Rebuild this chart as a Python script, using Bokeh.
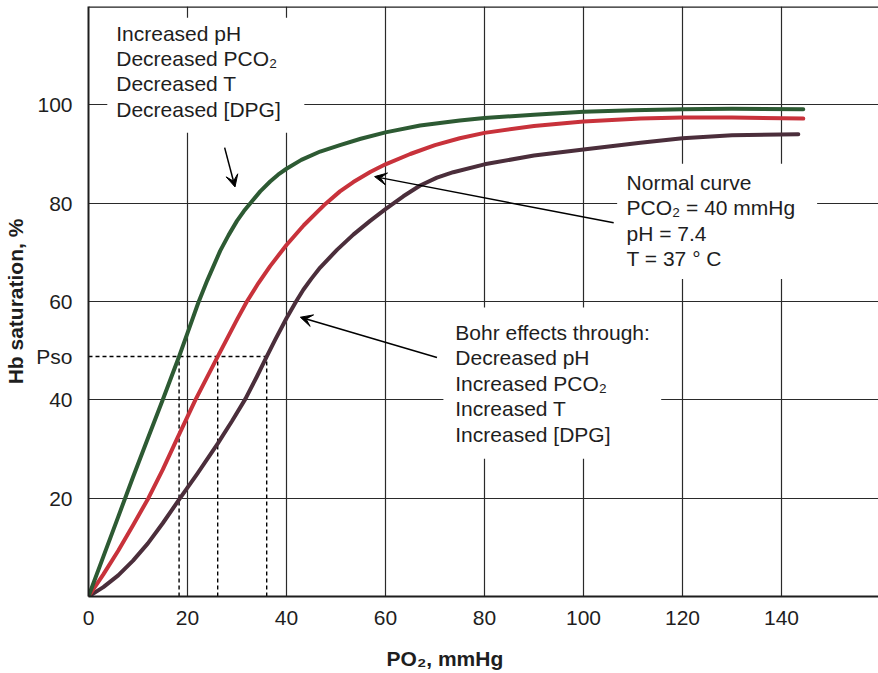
from bokeh.plotting import figure
from bokeh.models import Label, BoxAnnotation, Arrow, VeeHead, Span, FixedTicker, LinearAxis
from bokeh.embed import file_html
from bokeh.resources import INLINE

# ---- data ----
x_left = [0, 3, 6, 9, 12, 15, 18.3, 20.5, 22.2, 24, 26.6, 28.3, 30, 31.4, 32.7, 34.7, 36.7, 38.3,
          40, 43, 46.8, 50.8, 55, 60, 67, 75, 80, 90, 100, 110, 120, 130, 144.4]
y_left = [0, 8.1, 16.2, 24.3, 32.2, 40, 48.8, 55.0, 59.8, 64.3, 70.3, 73.5, 76.4, 78.4, 80, 82.4,
          84.4, 85.8, 87.0, 88.8, 90.5, 91.8, 93.1, 94.4, 95.8, 96.8, 97.3, 98.0, 98.6, 98.9,
          99.1, 99.2, 99.1]

x_normal = [0, 3, 6, 9, 12.1, 15, 18, 21.6, 26.1, 30, 32, 34.3, 36.7, 40, 43.5, 47.8, 50.8, 53.5,
            57, 60, 65, 70, 75, 80, 90, 100, 111.5, 120, 130, 144.4]
y_normal = [0, 4.5, 9.3, 14.5, 20, 25.8, 32.3, 40, 48.8, 56.3, 60, 63.7, 67.2, 71.5, 75.5, 79.8,
            82.4, 84.3, 86.4, 87.9, 90.0, 91.8, 93.2, 94.3, 95.7, 96.6, 97.2, 97.4, 97.4, 97.2]

x_right = [0, 3, 6, 9, 12, 15, 18.5, 22, 26.1, 29, 31.7, 34, 36, 37.7, 40, 42, 43.4, 45, 46.8,
           50.2, 53.5, 56.9, 60, 63.6, 67, 70.4, 73.7, 80, 90, 100, 111.5, 120, 130, 143.4]
y_right = [0, 1.9, 4.3, 7.3, 10.8, 14.9, 20, 25.0, 31.1, 35.7, 40.2, 44.7, 48.8, 52.2, 56.6, 60.1,
           62.4, 64.6, 66.9, 70.5, 73.6, 76.4, 78.8, 81.4, 83.6, 85.2, 86.3, 87.9, 89.7, 90.9,
           92.3, 93.2, 93.8, 94.0]

p50_sat = 48.8
p50_values = [18.3, 26.1, 36.0]

x_ticks = [0, 20, 40, 60, 80, 100, 120, 140]
y_ticks = [20, 40, 60, 80, 100]
x_title = "PO\u2082, mmHg"
y_title = "Hb saturation, %"
p50_label = "Pso"

text_left = ["Increased pH", "Decreased PCO\u2082", "Decreased T", "Decreased [DPG]"]
text_normal = ["Normal curve", "PCO\u2082 = 40 mmHg", "pH = 7.4", "T = 37 \u00b0 C"]
text_bohr = ["Bohr effects through:", "Decreased pH", "Increased PCO\u2082", "Increased T",
             "Increased [DPG]"]

# arrows: (x_start, y_start, x_end, y_end)
arrow_left = (27.5, 91.3, 29.6, 83.3)
arrow_normal = (106.1, 76.0, 57.8, 85.4)
arrow_bohr = (70.4, 48.6, 42.8, 56.8)

GREEN = "#2d5a33"
RED = "#c8323b"
PURPLE = "#4b2e3b"
INK = "#1e1e1e"
FONT = "Liberation Sans"
FS = "21px"

p = figure(width=878, height=673, x_range=(0, 159.6), y_range=(0, 120),
           output_backend="svg", toolbar_location=None,
           min_border_left=88, min_border_right=0, min_border_top=6, min_border_bottom=77)
p.background_fill_color = "white"
p.border_fill_color = "white"
p.outline_line_color = None

# axes
p.xaxis.ticker = FixedTicker(ticks=x_ticks)
p.yaxis.ticker = FixedTicker(ticks=sorted(y_ticks + [p50_sat]))
p.yaxis.major_label_overrides = {p50_sat: p50_label}
p.xgrid.ticker = FixedTicker(ticks=x_ticks)
p.ygrid.ticker = FixedTicker(ticks=y_ticks)
for ax in (p.xaxis, p.yaxis):
    ax.axis_line_color = INK
    ax.axis_line_width = 2
    ax.major_tick_line_color = None
    ax.minor_tick_line_color = None
    ax.major_tick_out = 0
    ax.major_tick_in = 0
    ax.major_label_text_font = FONT
    ax.major_label_text_font_size = FS
    ax.major_label_text_color = INK
p.xaxis.major_label_standoff = 14
p.yaxis.major_label_standoff = 16
p.yaxis.axis_label = y_title
p.yaxis.axis_label_text_font = FONT
p.yaxis.axis_label_text_font_size = FS
p.yaxis.axis_label_text_font_style = "bold"
p.yaxis.axis_label_text_color = INK
p.yaxis.axis_label_standoff = 6

# x title as a second, line-less axis below (placed off-centre as in the reference)
title_axis = LinearAxis(ticker=FixedTicker(ticks=[72]), major_label_overrides={72: x_title},
                        axis_line_color=None, major_tick_line_color=None,
                        minor_tick_line_color=None, major_tick_out=0, major_tick_in=0,
                        major_label_standoff=19, major_label_text_font=FONT,
                        major_label_text_font_size=FS, major_label_text_font_style="bold",
                        major_label_text_color=INK)
p.add_layout(title_axis, "below")

p.xgrid.grid_line_color = "#2a2a2a"
p.ygrid.grid_line_color = "#2a2a2a"
p.xgrid.grid_line_width = 1.2
p.ygrid.grid_line_width = 1.2

p.add_layout(Span(location=120, dimension="width", line_color=INK, line_width=2.5))

# white boxes behind the text blocks (interrupting the grid)
p.add_layout(BoxAnnotation(left=3.8, right=43.6, bottom=94.3, top=117.7,
                           fill_color="white", fill_alpha=1, line_color=None, level="underlay"))
p.add_layout(BoxAnnotation(left=106.8, right=147.2, bottom=64.6, top=88.0,
                           fill_color="white", fill_alpha=1, line_color=None, level="underlay"))
p.add_layout(BoxAnnotation(left=71.7, right=115.7, bottom=28.0, top=58.8,
                           fill_color="white", fill_alpha=1, line_color=None, level="underlay"))

# P50 dashed guides
p.line([0, max(p50_values)], [p50_sat, p50_sat], line_color="black", line_width=1.4,
       line_dash="4 3")
for xv in p50_values:
    p.line([xv, xv], [0, p50_sat], line_color="black", line_width=1.4, line_dash="4 3")

# curves
p.line(x_right, y_right, line_color=PURPLE, line_width=4, line_cap="round", line_join="round")
p.line(x_normal, y_normal, line_color=RED, line_width=4, line_cap="round", line_join="round")
p.line(x_left, y_left, line_color=GREEN, line_width=4, line_cap="round", line_join="round")

# arrows
for (xs, ys, xe, ye) in (arrow_left, arrow_normal, arrow_bohr):
    p.add_layout(Arrow(x_start=xs, y_start=ys, x_end=xe, y_end=ye, line_color="black",
                       line_width=1.5,
                       end=VeeHead(size=12, fill_color="black", line_color="black",
                                   line_width=1)))

def block(lines, x0, y0):
    for i, t in enumerate(lines):
        p.add_layout(Label(x=x0, y=y0, y_offset=-25.4 * i, text=t, text_font=FONT,
                           text_font_size=FS, text_color=INK, text_align="left",
                           text_baseline="alphabetic"))

block(text_left, 5.6, 114.6)
block(text_normal, 108.7, 84.2)
block(text_bohr, 74.1, 53.7)

open("out.html", "w").write(file_html(p, INLINE))
